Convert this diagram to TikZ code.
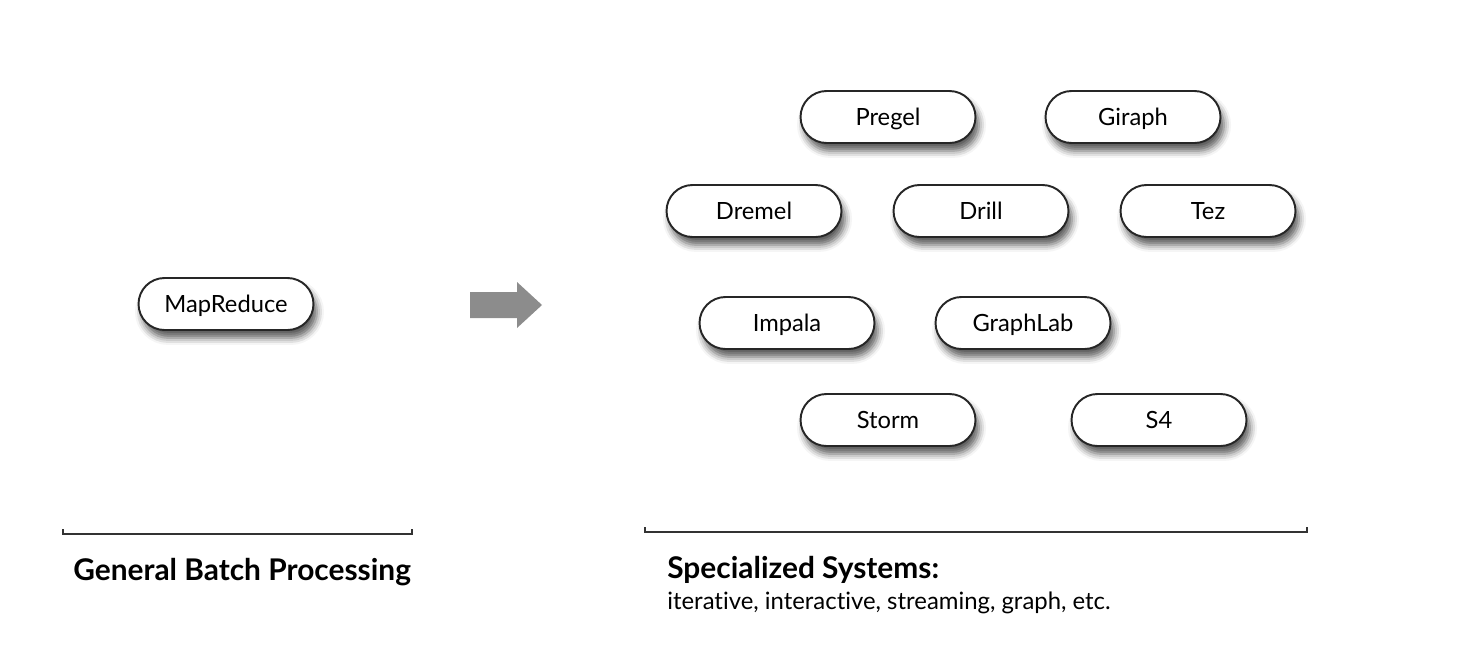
\documentclass[tikz,border=0pt]{standalone}
\usepackage{fontspec}
\setmainfont{Lato}[Ligatures=NoCommon]
\usetikzlibrary{shapes.misc,shadows.blur}
\tikzset{
  sysbox/.style={rounded rectangle, draw=black!85, line width=1.1pt, fill=white,
    minimum width=3.5cm, minimum height=1.04cm, inner sep=0pt,
    text height=9.7pt, text depth=0pt,
    font=\fontsize{13.5}{15}\selectfont,
    blur shadow={shadow xshift=2pt, shadow yshift=-4.5pt, shadow blur radius=4pt, shadow opacity=65}},
  bracket/.style={draw=black!80, line width=0.8pt},
  heading/.style={anchor=base west, inner sep=0pt, font=\bfseries\fontsize{17}{19}\selectfont},
  subtext/.style={anchor=base west, inner sep=0pt, font=\fontsize{13.6}{15}\selectfont},
  bigarrow/.style={fill=black!45}
}
\begin{document}
\begin{tikzpicture}[x=0.02cm,y=-0.02cm]
\useasboundingbox (0,0) rectangle (1476,656);
\node[sysbox] (mapreduce) at (226,304) {MapReduce};
\node[sysbox] (pregel) at (888,117) {Pregel};
\node[sysbox] (giraph) at (1133,117) {Giraph};
\node[sysbox] (dremel) at (754,211) {Dremel};
\node[sysbox] (drill) at (981,211) {Drill};
\node[sysbox] (tez) at (1208,211) {Tez};
\node[sysbox] (impala) at (787,323) {Impala};
\node[sysbox] (graphlab) at (1023,323) {GraphLab};
\node[sysbox] (storm) at (888,420) {Storm};
\node[sysbox] (s4) at (1159,420) {S4};
\fill[bigarrow] (470,292) -- (517,292) -- (517,282) -- (542,305) -- (517,328) -- (517,318) -- (470,318) -- cycle;
\draw[bracket] (63,529) -- (63,534) -- (412,534) -- (412,529);
\draw[bracket] (645,527) -- (645,532) -- (1307,532) -- (1307,527);
\node[heading] (general) at (73,580) {General Batch Processing};
\node[heading] (special) at (667,578) {Specialized Systems:};
\node[subtext] (kinds) at (667,609) {iterative, interactive, streaming, graph, etc.};
\end{tikzpicture}
\end{document}
